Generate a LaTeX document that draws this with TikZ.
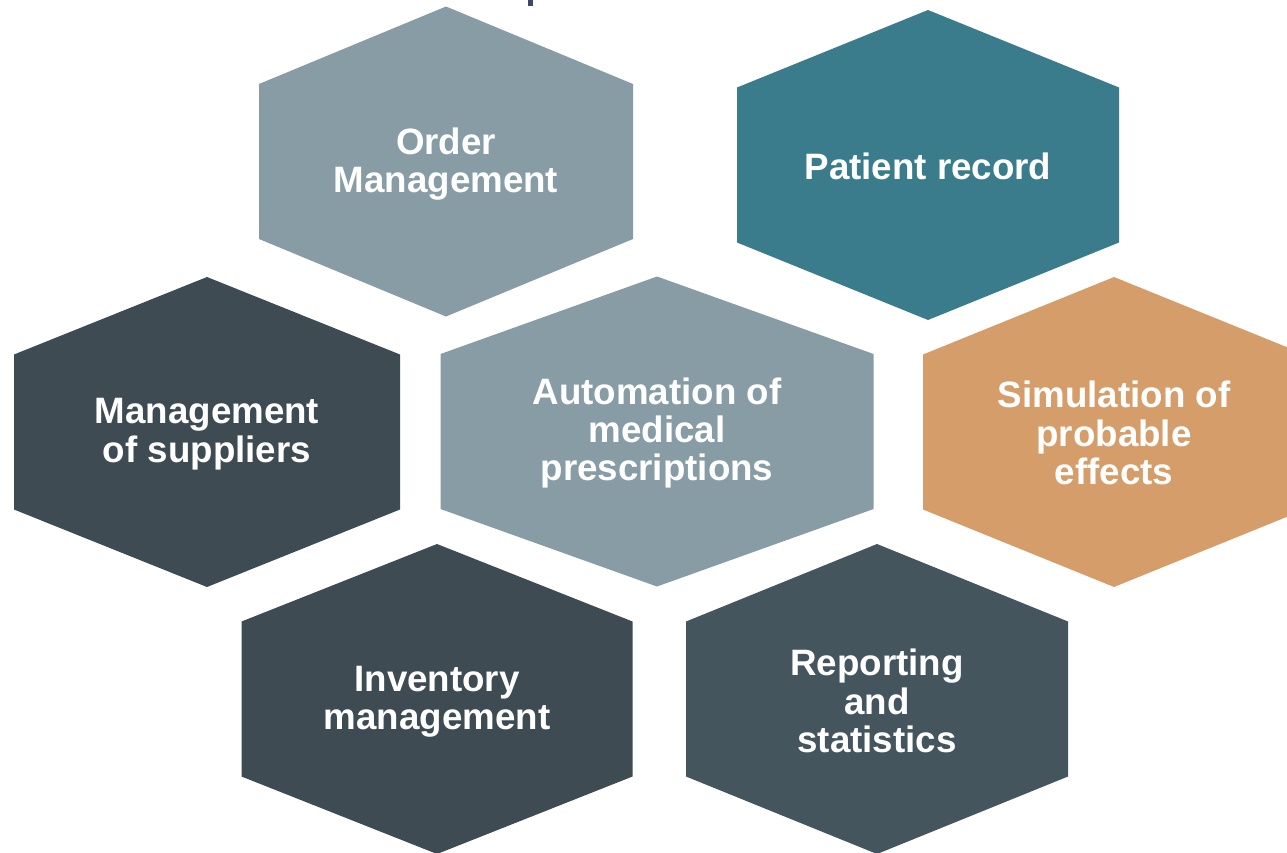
\documentclass[tikz,border=0pt]{standalone}
\usepackage{fontspec}
\setmainfont{Liberation Sans}
\usepackage{tikz}
\usetikzlibrary{positioning}

\definecolor{greyblue}{HTML}{879CA4}
\definecolor{tealblue}{HTML}{3A7C8B}
\definecolor{slatedark}{HTML}{3E4B52}
\definecolor{slatemid}{HTML}{45555D}
\definecolor{sandorange}{HTML}{D59D69}
\definecolor{titlenavy}{HTML}{3B4A66}

% hexagon cell: centre x, centre y, half width, colour
\newcommand{\hexcell}[4]{%
  \fill[#4] (#1,#2-155) -- (#1+#3,#2-77.5) -- (#1+#3,#2+77.5) -- (#1,#2+155)
    -- (#1-#3,#2+77.5) -- (#1-#3,#2-77.5) -- cycle;}

\tikzset{
  hexlabel/.style={text=white, align=center, inner sep=0pt,
    font=\fontsize{20.9}{21.9}\selectfont\bfseries},
}

\begin{document}
\begin{tikzpicture}[x=0.02cm, y=-0.02cm]
\useasboundingbox (0,0) rectangle (1287,852);
\clip (0,0) rectangle (1287,852);

\fill[titlenavy] (527.7,0) rectangle (533.3,6);

\hexcell{446}{161.5}{187}{greyblue}
\hexcell{928}{165}{191}{tealblue}
\hexcell{207}{432}{193}{slatedark}
\hexcell{657}{431.5}{216.5}{greyblue}
\hexcell{1114}{432}{191}{sandorange}
\hexcell{437}{699}{195.5}{slatedark}
\hexcell{877}{699}{191}{slatemid}

\node[hexlabel] (order) at (446,164) {Order\\Management};
\node[hexlabel] (patient) at (928,166) {Patient record};
\node[hexlabel] (suppliers) at (207,434) {Management\\of suppliers};
\node[hexlabel] (automation) at (657,433) {Automation of\\medical\\prescriptions};
\node[hexlabel] (simulation) at (1114,433) {Simulation of\\probable\\effects};
\node[hexlabel] (inventory) at (437,702) {Inventory\\management};
\node[hexlabel] (reporting) at (877,701) {Reporting\\and\\statistics};
\end{tikzpicture}
\end{document}
